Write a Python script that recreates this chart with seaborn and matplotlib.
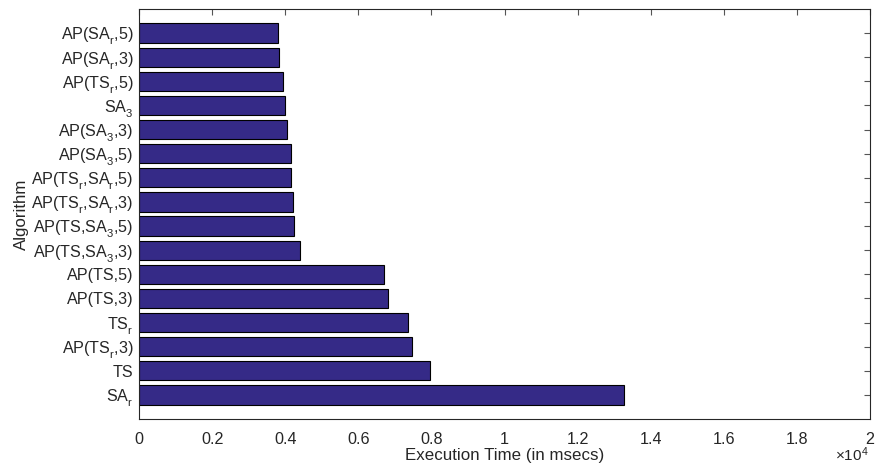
import matplotlib
matplotlib.use("Agg")
import matplotlib.pyplot as plt
import matplotlib._mathtext as _mt
import seaborn as sns
import pandas as pd
from matplotlib.ticker import FuncFormatter, MultipleLocator

algorithms = ["AP(SA$_r$,5)", "AP(SA$_r$,3)", "AP(TS$_r$,5)", "SA$_3$", "AP(SA$_3$,3)",
              "AP(SA$_3$,5)", "AP(TS$_r$,SA$_r$,5)", "AP(TS$_r$,SA$_r$,3)", "AP(TS,SA$_3$,5)",
              "AP(TS,SA$_3$,3)", "AP(TS,5)", "AP(TS,3)", "TS$_r$", "AP(TS$_r$,3)", "TS", "SA$_r$"]
exec_time = [3808, 3827, 3926, 4000, 4047, 4156, 4150, 4211, 4247, 4411,
             6712, 6822, 7370, 7480, 7953, 13260]

# MATLAB-like deeper subscripts
_mt.FontConstantsBase.sub1 = 0.6
_mt.FontConstantsBase.sub2 = 0.75

sns.set_style("white")
plt.rcParams["font.family"] = ["Liberation Sans", "DejaVu Sans"]
plt.rcParams["mathtext.fontset"] = "custom"
plt.rcParams["mathtext.rm"] = "Liberation Sans"
plt.rcParams["mathtext.it"] = "Liberation Sans"

df = pd.DataFrame({"Algorithm": algorithms, "Time": exec_time})

fig = plt.figure(figsize=(8.75, 4.7), dpi=100)
ax = fig.add_axes([0.1589, 0.1085, 0.8354, 0.8724])
sns.barplot(data=df, y="Algorithm", x="Time", order=algorithms, orient="h",
            color="#352a87", saturation=1, width=0.8, edgecolor="black",
            linewidth=0.8, ax=ax)

ax.set_xlim(0, 20000)
ax.set_ylim(16, -1)
ax.xaxis.set_major_locator(MultipleLocator(2000))
ax.xaxis.set_major_formatter(FuncFormatter(lambda v, p: "%g" % round(v / 1e4, 2)))
ax.tick_params(direction="in", top=True, right=True, length=4, width=0.8,
               color="#555555", labelsize=11.6, labelcolor="#262626")
ax.tick_params(axis="x", pad=9)
ax.tick_params(axis="y", pad=4)
for s in ax.spines.values():
    s.set_visible(True)
    s.set_color("#262626")
    s.set_linewidth(0.8)

ax.set_xlabel("Execution Time (in msecs)", fontsize=12.2, color="#262626", labelpad=1)
ax.set_ylabel("Algorithm", fontsize=12.2, color="#262626", labelpad=2)
fig.text(0.993, 1 - 455 / 470, r"$\times$10$^4$", ha="right", va="center",
         fontsize=11, color="#262626")

fig.savefig("out.png", dpi=100)
